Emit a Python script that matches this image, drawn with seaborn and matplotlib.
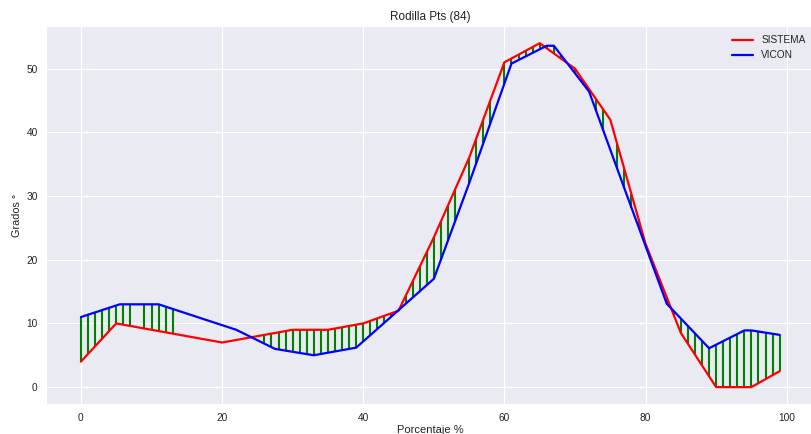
import numpy as np
import pandas as pd
import matplotlib
matplotlib.use("Agg")
import matplotlib.pyplot as plt
import seaborn as sns

# Knee angle measured by the wearable system (every 5 % of the gait cycle)
sistema_pct = [0, 5, 10, 15, 20, 25, 30, 35, 40, 45, 50, 55, 60, 65, 70, 75, 80, 85, 90, 95, 99]
sistema_deg = [4, 10, 9, 8, 7, 8, 9, 9, 10, 12, 23.5, 36, 51, 54, 50, 42, 22.5, 8.5, 0, 0, 2.5]

# Knee angle from the VICON reference
vicon_pct = [0, 5.5, 11, 16.5, 22, 27.5, 33, 39, 44, 50, 55, 61, 66, 67, 72, 77, 83, 89, 94, 95, 99]
vicon_deg = [11, 13, 13, 11, 9, 6, 5, 6.2, 11.1, 17, 32, 50.8, 53.6, 53.6, 46.4, 31.2, 13.1, 6.1, 8.9, 8.9, 8.2]

# Cycle percentages without a paired sample (84 of 100 remain)
missing_pct = [8, 14, 15, 16, 17, 18, 19, 20, 21, 22, 23, 24, 25, 54, 59, 75]
paired_pct = [p for p in range(100) if p not in missing_pct]

title = "Rodilla Pts (84)"
xlabel = "Porcentaje %"
ylabel = "Grados °"

sns.set_style("darkgrid")
plt.rcParams["font.family"] = ["Liberation Sans", "DejaVu Sans"]

sistema = pd.DataFrame({"pct": sistema_pct, "deg": sistema_deg})
vicon = pd.DataFrame({"pct": vicon_pct, "deg": vicon_deg})

fig = plt.figure(figsize=(8.11, 4.34), dpi=100)
ax = fig.add_axes([46 / 811, 29.7 / 434, (814.6 - 46) / 811, (404.3 - 26) / 434])

# error segments between both curves at each paired sample
y_sis = np.interp(paired_pct, sistema_pct, sistema_deg)
y_vic = np.interp(paired_pct, vicon_pct, vicon_deg)
ax.vlines(paired_pct, y_sis, y_vic, colors="green", linewidth=1.5, zorder=2)

sns.lineplot(data=sistema, x="pct", y="deg", color="red", linewidth=1.6,
             label="SISTEMA", ax=ax, zorder=3)
sns.lineplot(data=vicon, x="pct", y="deg", color="blue", linewidth=1.6,
             label="VICON", ax=ax, zorder=3)

ax.set_title(title, fontsize=8.5, pad=4, color="#222222")
ax.set_xlabel(xlabel, fontsize=8, labelpad=2, color="#222222")
ax.set_ylabel(ylabel, fontsize=7.8, labelpad=3, color="#222222")
ax.set_xticks([0, 20, 40, 60, 80, 100])
ax.set_yticks([0, 10, 20, 30, 40, 50])
ax.tick_params(axis="both", labelsize=7.3, length=0, pad=6, colors="#222222")

leg = ax.legend(loc="upper right", frameon=False, fontsize=7.3, handlelength=2.1)

fig.savefig("out.png", dpi=100)
